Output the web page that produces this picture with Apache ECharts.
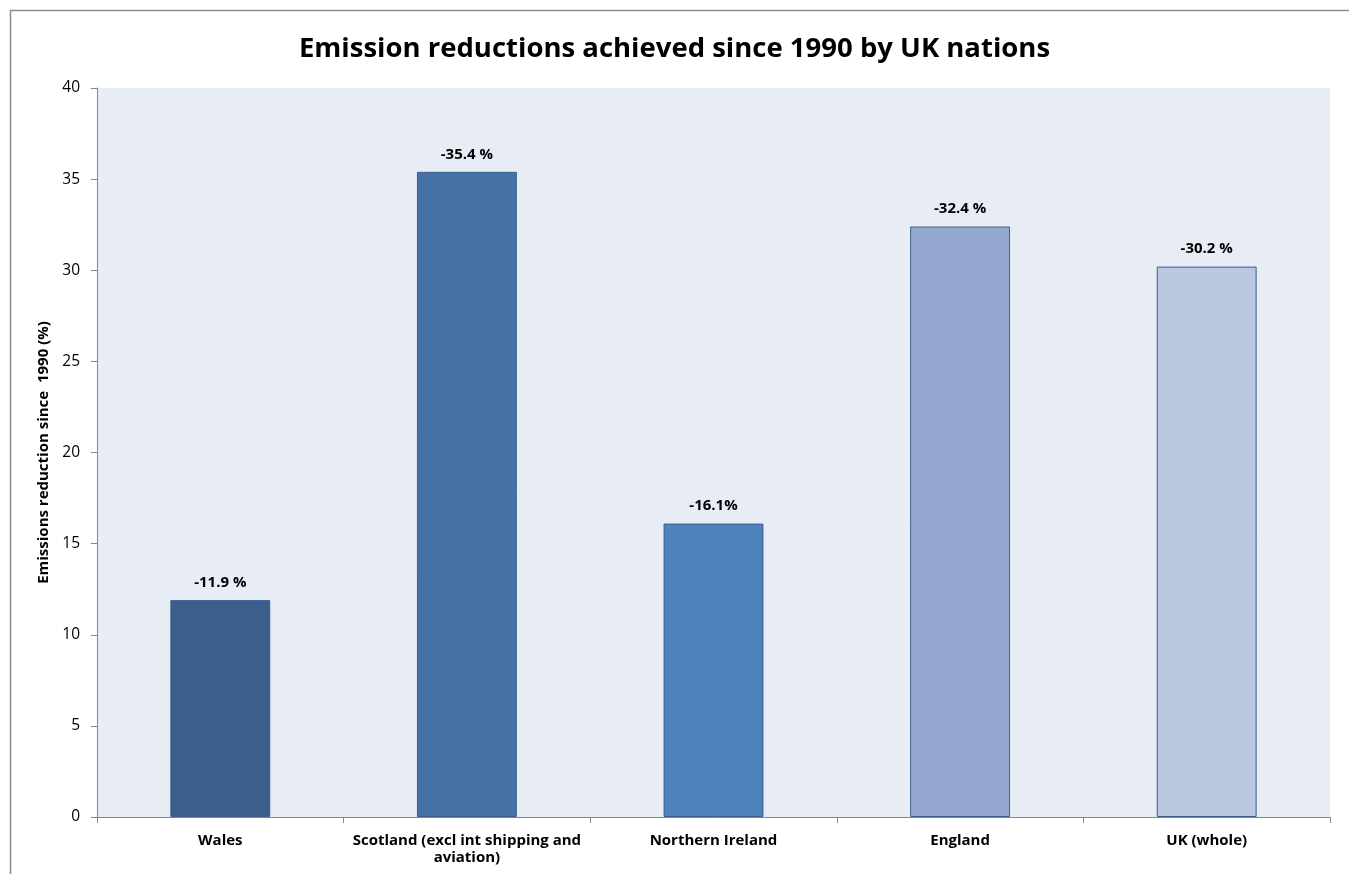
<!DOCTYPE html>
<html>
<head>
<meta charset="utf-8">
<script src="https://cdn.jsdelivr.net/npm/echarts@6/dist/echarts.min.js"></script>
<style>
  html, body { margin: 0; padding: 0; background: #ffffff; }
  #chart { width: 1349px; height: 874px; }
</style>
</head>
<body>
<div id="chart"></div>
<script>
// Emission reductions since 1990, by nation
const nations = ['Wales', 'Scotland (excl int shipping and\naviation)', 'Northern Ireland', 'England', 'UK (whole)'];
const reductions = [11.9, 35.4, 16.1, 32.4, 30.2];
const valueLabels = ['-11.9 %', '-35.4 %', '-16.1%', '-32.4 %', '-30.2 %'];
const barColors = ['#3B5E8C', '#4471A6', '#4F81BD', '#95A9D0', '#BAC7E1'];
const barBorders = ['#3B5E8C', '#3A5F8E', '#3A5F8E', '#3A5F8E', '#3A5F8E'];
const yTicks = [0, 5, 10, 15, 20, 25, 30, 35, 40];

const fontFamily = '"Open Sans", "Liberation Sans", sans-serif';

const chart = echarts.init(document.getElementById('chart'), null, { renderer: 'canvas' });

chart.setOption({
  backgroundColor: '#ffffff',
  animation: false,
  graphic: [{
    type: 'rect',
    z: -10,
    shape: { x: 10.5, y: 10.5, width: 1500, height: 1000 },
    style: { fill: 'none', stroke: '#8c8c8c', lineWidth: 1.5 }
  }],
  title: {
    text: 'Emission reductions achieved since 1990 by UK nations',
    left: 'center',
    top: 30,
    textStyle: { fontFamily, fontWeight: 'bold', fontSize: 27.5, color: '#000000' }
  },
  grid: {
    left: 97, right: 19, top: 88, bottom: 57,
    show: true, backgroundColor: '#E8ECF4', borderWidth: 0
  },
  xAxis: {
    type: 'category',
    data: nations,
    axisLine: { lineStyle: { color: '#868686', width: 1 } },
    axisTick: { show: true, length: 6, alignWithLabel: false, lineStyle: { color: '#868686' } },
    axisLabel: {
      fontFamily, fontWeight: 'bold', fontSize: 15, color: '#000000',
      margin: 15, lineHeight: 17, interval: 0
    },
    splitLine: { show: false }
  },
  yAxis: {
    type: 'value',
    min: yTicks[0],
    max: yTicks[yTicks.length - 1],
    interval: yTicks[1] - yTicks[0],
    name: 'Emissions reduction since  1990 (%)',
    nameLocation: 'middle',
    nameGap: 44,
    nameTextStyle: { fontFamily, fontWeight: 'bold', fontSize: 15, color: '#000000' },
    axisLine: { show: true, lineStyle: { color: '#868686', width: 1 } },
    axisTick: { show: true, length: 6, lineStyle: { color: '#868686' } },
    axisLabel: { fontFamily, fontSize: 15.5, color: '#000000', margin: 17 },
    splitLine: { show: false }
  },
  series: [{
    type: 'bar',
    barWidth: '40.5%',
    data: reductions.map((v, i) => ({
      value: v,
      itemStyle: { color: barColors[i], borderColor: barBorders[i], borderWidth: 1 },
      label: { formatter: valueLabels[i] }
    })),
    label: {
      show: true,
      position: 'top',
      distance: 10,
      fontFamily, fontWeight: 'bold', fontSize: 15, color: '#000000'
    }
  }]
});
</script>
</body>
</html>
